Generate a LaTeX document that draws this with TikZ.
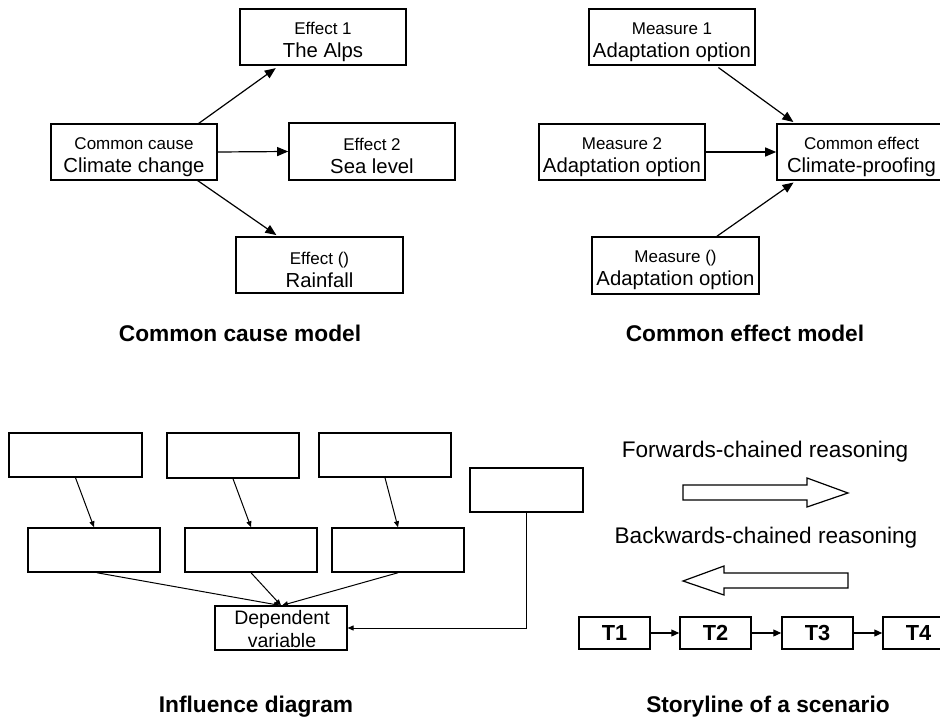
\documentclass[tikz,border=0pt]{standalone}
\usepackage{fontspec}
\setmainfont{Liberation Sans}
\usetikzlibrary{arrows.meta}
\newcommand{\smalltxt}{\fontsize{17}{23}\selectfont\rule{0pt}{22pt}}
\newcommand{\bigtxt}{\fontsize{20.3}{23}\selectfont}
\newcommand{\titletxt}{\fontsize{22.7}{26}\selectfont\bfseries}
\begin{document}
\begin{tikzpicture}[x=1pt,y=-1pt,
  box/.style={draw, line width=1.6pt, inner sep=0pt, align=center,
              minimum width=166pt, minimum height=56pt, font=\bigtxt},
  ibox/.style={draw, line width=1.5pt, inner sep=0pt, align=center,
              minimum width=132pt, minimum height=44pt},
  tbox/.style={draw, line width=1.5pt, inner sep=0pt,
              minimum width=71pt, minimum height=32pt,
              font=\fontsize{21.8}{24}\selectfont\bfseries},
  arr/.style={line width=1.2pt, -{Triangle[length=11pt,width=9pt]}},
  iarr/.style={line width=1pt, -{Triangle[length=6pt,width=5pt]}},
  tarr/.style={line width=1.2pt, -{Triangle[length=8pt,width=7pt]}},
  fat/.style={draw, line width=1.2pt, line join=miter},
  title/.style={font=\titletxt},
  lbl/.style={font=\fontsize{22.6}{26}\selectfont}
]
\useasboundingbox (0,0) rectangle (940,719);

% ---- Common cause model ----
\node[box] (cc) at (134,152) {{\smalltxt Common cause}\\Climate change};
\node[box] (e1) at (323,37) {{\smalltxt Effect 1}\\The Alps};
\node[box, minimum height=57pt] (e2) at (372,151.5) {{\smalltxt Effect 2}\\Sea level};
\node[box, minimum width=167pt] (e3) at (319.5,265) {{\smalltxt Effect ()}\\Rainfall};
\node[title] (t1) at (240,333) {Common cause model};

\draw[arr, shorten <=-2pt, shorten >=4pt] ([xshift=65pt]cc.north) -- ([xshift=-44pt]e1.south);
\draw[arr] (cc.east) -- (e2.west);
\draw[arr, shorten <=-2pt, shorten >=2pt] ([xshift=64pt]cc.south) -- ([xshift=-41.5pt]e3.north);

% ---- Common effect model ----
\node[box] (m1) at (672,37) {{\smalltxt Measure 1}\\Adaptation option};
\node[box] (m2) at (622,152) {{\smalltxt Measure 2}\\Adaptation option};
\node[box, minimum width=169pt] (ce) at (861.5,152) {{\smalltxt Common effect}\\Climate-proofing};
\node[box, minimum width=167pt, minimum height=57pt] (m3) at (675.5,265.5) {{\smalltxt Measure ()}\\Adaptation option};
\node[title] (t2) at (745,333) {Common effect model};

\draw[arr, shorten <=3pt, shorten >=2pt] ([xshift=44pt]m1.south) -- ([xshift=-66.5pt]ce.north);
\draw[arr] (m2.east) -- (ce.west);
\draw[arr, shorten >=3pt] ([xshift=41.5pt]m3.north) -- ([xshift=-65.5pt]ce.south);

% ---- Influence diagram ----
\node[ibox, minimum width=133pt] (a1) at (75.5,455) {};
\node[ibox, minimum height=45pt] (a2) at (233,455.5) {};
\node[ibox] (a3) at (385,455) {};
\node[ibox, minimum width=113pt] (a4) at (526.5,490) {};
\node[ibox] (b1) at (94,550) {};
\node[ibox] (b2) at (251,550) {};
\node[ibox] (b3) at (398,550) {};
\node[ibox, line width=1.2pt] (dep) at (281,628) {};
\node[font=\fontsize{19.5}{23}\selectfont, align=center, inner sep=0pt] (deptxt) at (282,629.5) {Dependent\\variable};
\node[title] (t3) at (256,707) {Influence diagram};

\draw[iarr] (a1.south) -- (b1.north);
\draw[iarr] (a2.south) -- (b2.north);
\draw[iarr] (a3.south) -- (b3.north);
\draw[iarr] ([xshift=3pt]b1.south) -- ([xshift=-1pt]dep.north);
\draw[iarr] (b2.south) -- (dep.north);
\draw[iarr] (b3.south) -- ([xshift=1pt]dep.north);
\draw[iarr] (a4.south) |- (dep.east);

% ---- Storyline of a scenario ----
\node[lbl] (fwd) at (765,452) {Forwards-chained reasoning};
\draw[fat] (683,485) -- (807,485) -- (807,478) -- (848,493) -- (807,507)
           -- (807,500) -- (683,500) -- cycle;
\node[lbl] (bwd) at (766,538) {Backwards-chained reasoning};
\draw[fat] (848,573) -- (724,573) -- (724,566) -- (683,581) -- (724,595)
           -- (724,588) -- (848,588) -- cycle;

\node[tbox] (T1) at (614.5,633) {T1};
\node[tbox] (T2) at (715.5,633) {T2};
\node[tbox] (T3) at (817.5,633) {T3};
\node[tbox] (T4) at (918.5,633) {T4\hspace{7pt}};
\draw[tarr] (T1) -- (T2);
\draw[tarr] (T2) -- (T3);
\draw[tarr] (T3) -- (T4);
\node[title] (t4) at (768,707) {Storyline of a scenario};
\end{tikzpicture}
\end{document}
